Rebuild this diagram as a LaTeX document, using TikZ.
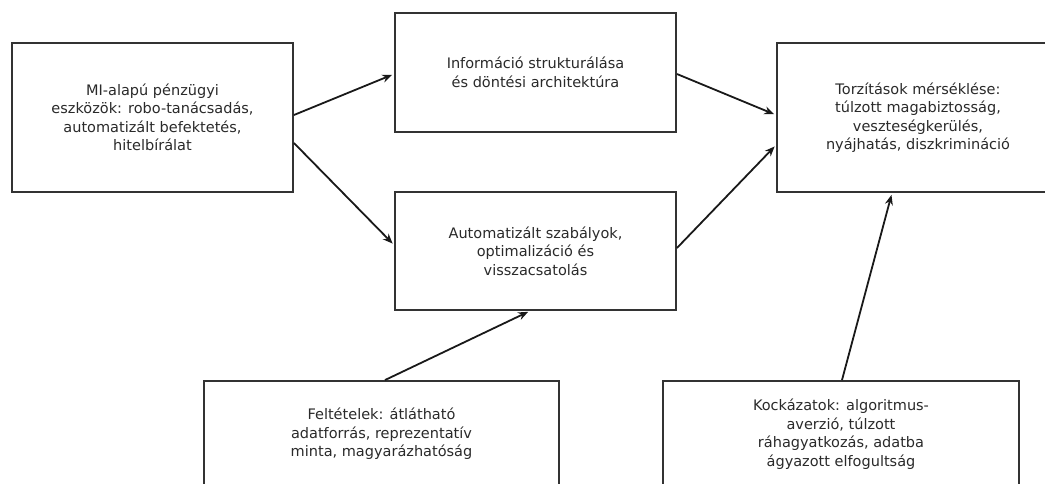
\documentclass[tikz,border=0pt]{standalone}
\usepackage{fontspec}
\setmainfont{DejaVu Sans}
\usetikzlibrary{arrows.meta,calc}
\definecolor{edgegray}{HTML}{333333}
\definecolor{inkgray}{HTML}{2A2A2A}
\tikzset{
  box/.style={draw=edgegray, line width=1.9pt, fill=white, rectangle,
    align=center, inner sep=0pt, text=inkgray,
    font=\fontsize{14.5}{18.5}\selectfont},
  link/.style={draw=black!90, line width=1.8pt,
    -{Stealth[length=10pt,width=8pt]}, shorten >=2pt}
}
\begin{document}
\begin{tikzpicture}[x=1pt,y=-1pt]
  \useasboundingbox (0,0) rectangle (1045,483);
  \clip (0,0) rectangle (1045,483);

  % boxes
  \node[box, minimum width=281pt, minimum height=149pt] (mi) at (152.5,117.5)
    {MI-alapú pénzügyi\\eszközök: robo-tanácsadás,\\automatizált befektetés,\\hitelbírálat};
  \node[box, minimum width=281pt, minimum height=119pt] (info) at (535.5,72.5)
    {Információ strukturálása\\és döntési architektúra};
  \node[box, minimum width=281pt, minimum height=118pt] (auto) at (535.5,251)
    {Automatizált szabályok,\\optimalizáció és\\visszacsatolás};
  \node[box, minimum width=282pt, minimum height=149pt] (torz) at (918,117.5)
    {Torzítások mérséklése:\\túlzott magabiztosság,\\veszteségkerülés,\\nyájhatás, diszkrimináció};
  \node[box, minimum width=355pt, minimum height=106pt] (felt) at (381.5,434)
    {Feltételek: átlátható\\adatforrás, reprezentatív\\minta, magyarázhatóság};
  \node[box, minimum width=356pt, minimum height=106pt] (kock) at (841,434)
    {Kockázatok: algoritmus-\\averzió, túlzott\\ráhagyatkozás, adatba\\ágyazott elfogultság};

  % connectors
  \draw[link] ($(mi.east)+(0,-2.5)$) -- ($(info.west)+(0,1.5)$);
  \draw[link] ($(mi.east)+(0,25.5)$) -- ($(auto.west)+(0,-6)$);
  \draw[link] ($(info.east)+(0,1.5)$) -- ($(torz.west)+(0,-2.5)$);
  \draw[link] ($(auto.east)+(0,-3)$) -- ($(torz.west)+(0,27.5)$);
  \draw[link] ($(felt.north)+(3.5,0)$) -- ($(auto.south)+(-5.5,0)$);
  \draw[link] ($(kock.north)+(1,0)$) -- ($(torz.south)+(-26,0)$);
\end{tikzpicture}
\end{document}
